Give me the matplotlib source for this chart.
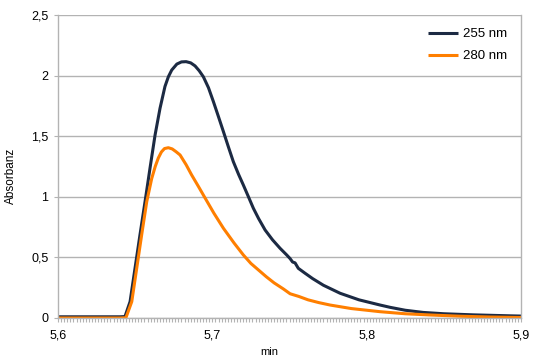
import matplotlib
matplotlib.use("Agg")
import matplotlib.pyplot as plt
from matplotlib.ticker import MultipleLocator, FuncFormatter

# 255 nm trace (min, absorbance)
x255 = [5.6000, 5.6200, 5.6400, 5.6434, 5.6467, 5.6499, 5.6531, 5.6564, 5.6596,
        5.6629, 5.6661, 5.6693, 5.6715, 5.6737, 5.6770, 5.6800, 5.6830, 5.6860,
        5.6888, 5.6915, 5.6942, 5.6975, 5.7007, 5.7040, 5.7072, 5.7104, 5.7136,
        5.7170, 5.7201, 5.7234, 5.7266, 5.7300, 5.7342, 5.7390, 5.7439, 5.7482,
        5.7504, 5.7520, 5.7536, 5.7557, 5.7600, 5.7650, 5.7720, 5.7828, 5.7950,
        5.8087, 5.8152, 5.8250, 5.8366, 5.8500, 5.8690, 5.8930, 5.9000]
y255 = [0.010, 0.010, 0.010, 0.012, 0.135, 0.410, 0.685, 0.960, 1.235,
        1.510, 1.730, 1.910, 1.990, 2.046, 2.095, 2.113, 2.115, 2.105,
        2.080, 2.040, 1.990, 1.900, 1.785, 1.660, 1.537, 1.412, 1.290,
        1.185, 1.097, 1.000, 0.905, 0.820, 0.726, 0.645, 0.575, 0.520,
        0.490, 0.462, 0.455, 0.410, 0.370, 0.325, 0.270, 0.204, 0.150,
        0.107, 0.088, 0.064, 0.046, 0.035, 0.026, 0.018, 0.016]

# 280 nm trace (min, absorbance)
x280 = [5.6000, 5.6200, 5.6400, 5.6440, 5.6478, 5.6510, 5.6542, 5.6575, 5.6607,
        5.6630, 5.6650, 5.6670, 5.6690, 5.6715, 5.6740, 5.6765, 5.6791, 5.6830,
        5.6866, 5.6910, 5.6953, 5.7010, 5.7072, 5.7140, 5.7201, 5.7250, 5.7300,
        5.7350, 5.7400, 5.7460, 5.7504, 5.7560, 5.7620, 5.7690, 5.7763, 5.7900,
        5.8087, 5.8250, 5.8411, 5.8600, 5.8800, 5.9000]
y280 = [0.000, 0.000, 0.000, 0.002, 0.135, 0.410, 0.685, 0.960, 1.150,
        1.250, 1.320, 1.370, 1.398, 1.405, 1.395, 1.372, 1.345, 1.265,
        1.180, 1.085, 0.990, 0.865, 0.740, 0.620, 0.520, 0.450, 0.395,
        0.340, 0.290, 0.240, 0.200, 0.178, 0.150, 0.127, 0.107, 0.078,
        0.052, 0.035, 0.025, 0.015, 0.008, 0.004]

labels = ["255 nm", "280 nm"]
colors = ["#1c2a43", "#ff7f00"]

plt.rcParams['font.family'] = ['Liberation Sans', 'DejaVu Sans']

fig = plt.figure(figsize=(5.44, 3.63), dpi=100)
ax = fig.add_axes([58/544, 1 - 318/363, (521-58)/544, (318-15)/363])

ax.plot(x255, y255, color=colors[0], lw=2.2, label=labels[0],
        solid_joinstyle='round', solid_capstyle='butt')
ax.plot(x280, y280, color=colors[1], lw=2.2, label=labels[1],
        solid_joinstyle='round', solid_capstyle='butt')

ax.set_xlim(5.6, 5.9)
ax.set_ylim(0, 2.5)
ax.xaxis.set_major_locator(MultipleLocator(0.1))
ax.xaxis.set_minor_locator(MultipleLocator(0.002))
ax.yaxis.set_major_locator(MultipleLocator(0.5))

fmt = FuncFormatter(lambda v, p: ("%g" % round(v, 3)).replace('.', ','))
ax.xaxis.set_major_formatter(fmt)
ax.yaxis.set_major_formatter(fmt)

ax.grid(axis='y', color='#b3b3b3', lw=1)
ax.set_axisbelow(True)
for s in ['left', 'right', 'bottom']:
    ax.spines[s].set_color('#b3b3b3')
    ax.spines[s].set_linewidth(1)
ax.spines['top'].set_visible(False)

ax.tick_params(axis='both', which='major', length=3, color='#b3b3b3', labelsize=9,
               labelcolor='black')
ax.tick_params(axis='x', which='major', pad=5)
ax.tick_params(axis='y', which='major', pad=4)
ax.tick_params(axis='x', which='minor', length=3, color='#b3b3b3', width=0.8)

ax.set_xlabel('min', fontsize=8)
ax.set_ylabel('Absorbanz', fontsize=8.5)
ax.xaxis.label.set_va('center')
ax.yaxis.label.set_va('center')
ax.xaxis.set_label_coords((269-58)/463, (318-352)/303)
ax.yaxis.set_label_coords((11-58)/463, (318-176)/303)

leg = ax.legend(loc='upper left', frameon=False, fontsize=9.5, handlelength=2.3,
                handletextpad=0.35, labelspacing=0.75, borderpad=0, borderaxespad=0,
                bbox_to_anchor=((428-58)/463, (318-28)/303))

fig.savefig('out.png', dpi=100)
